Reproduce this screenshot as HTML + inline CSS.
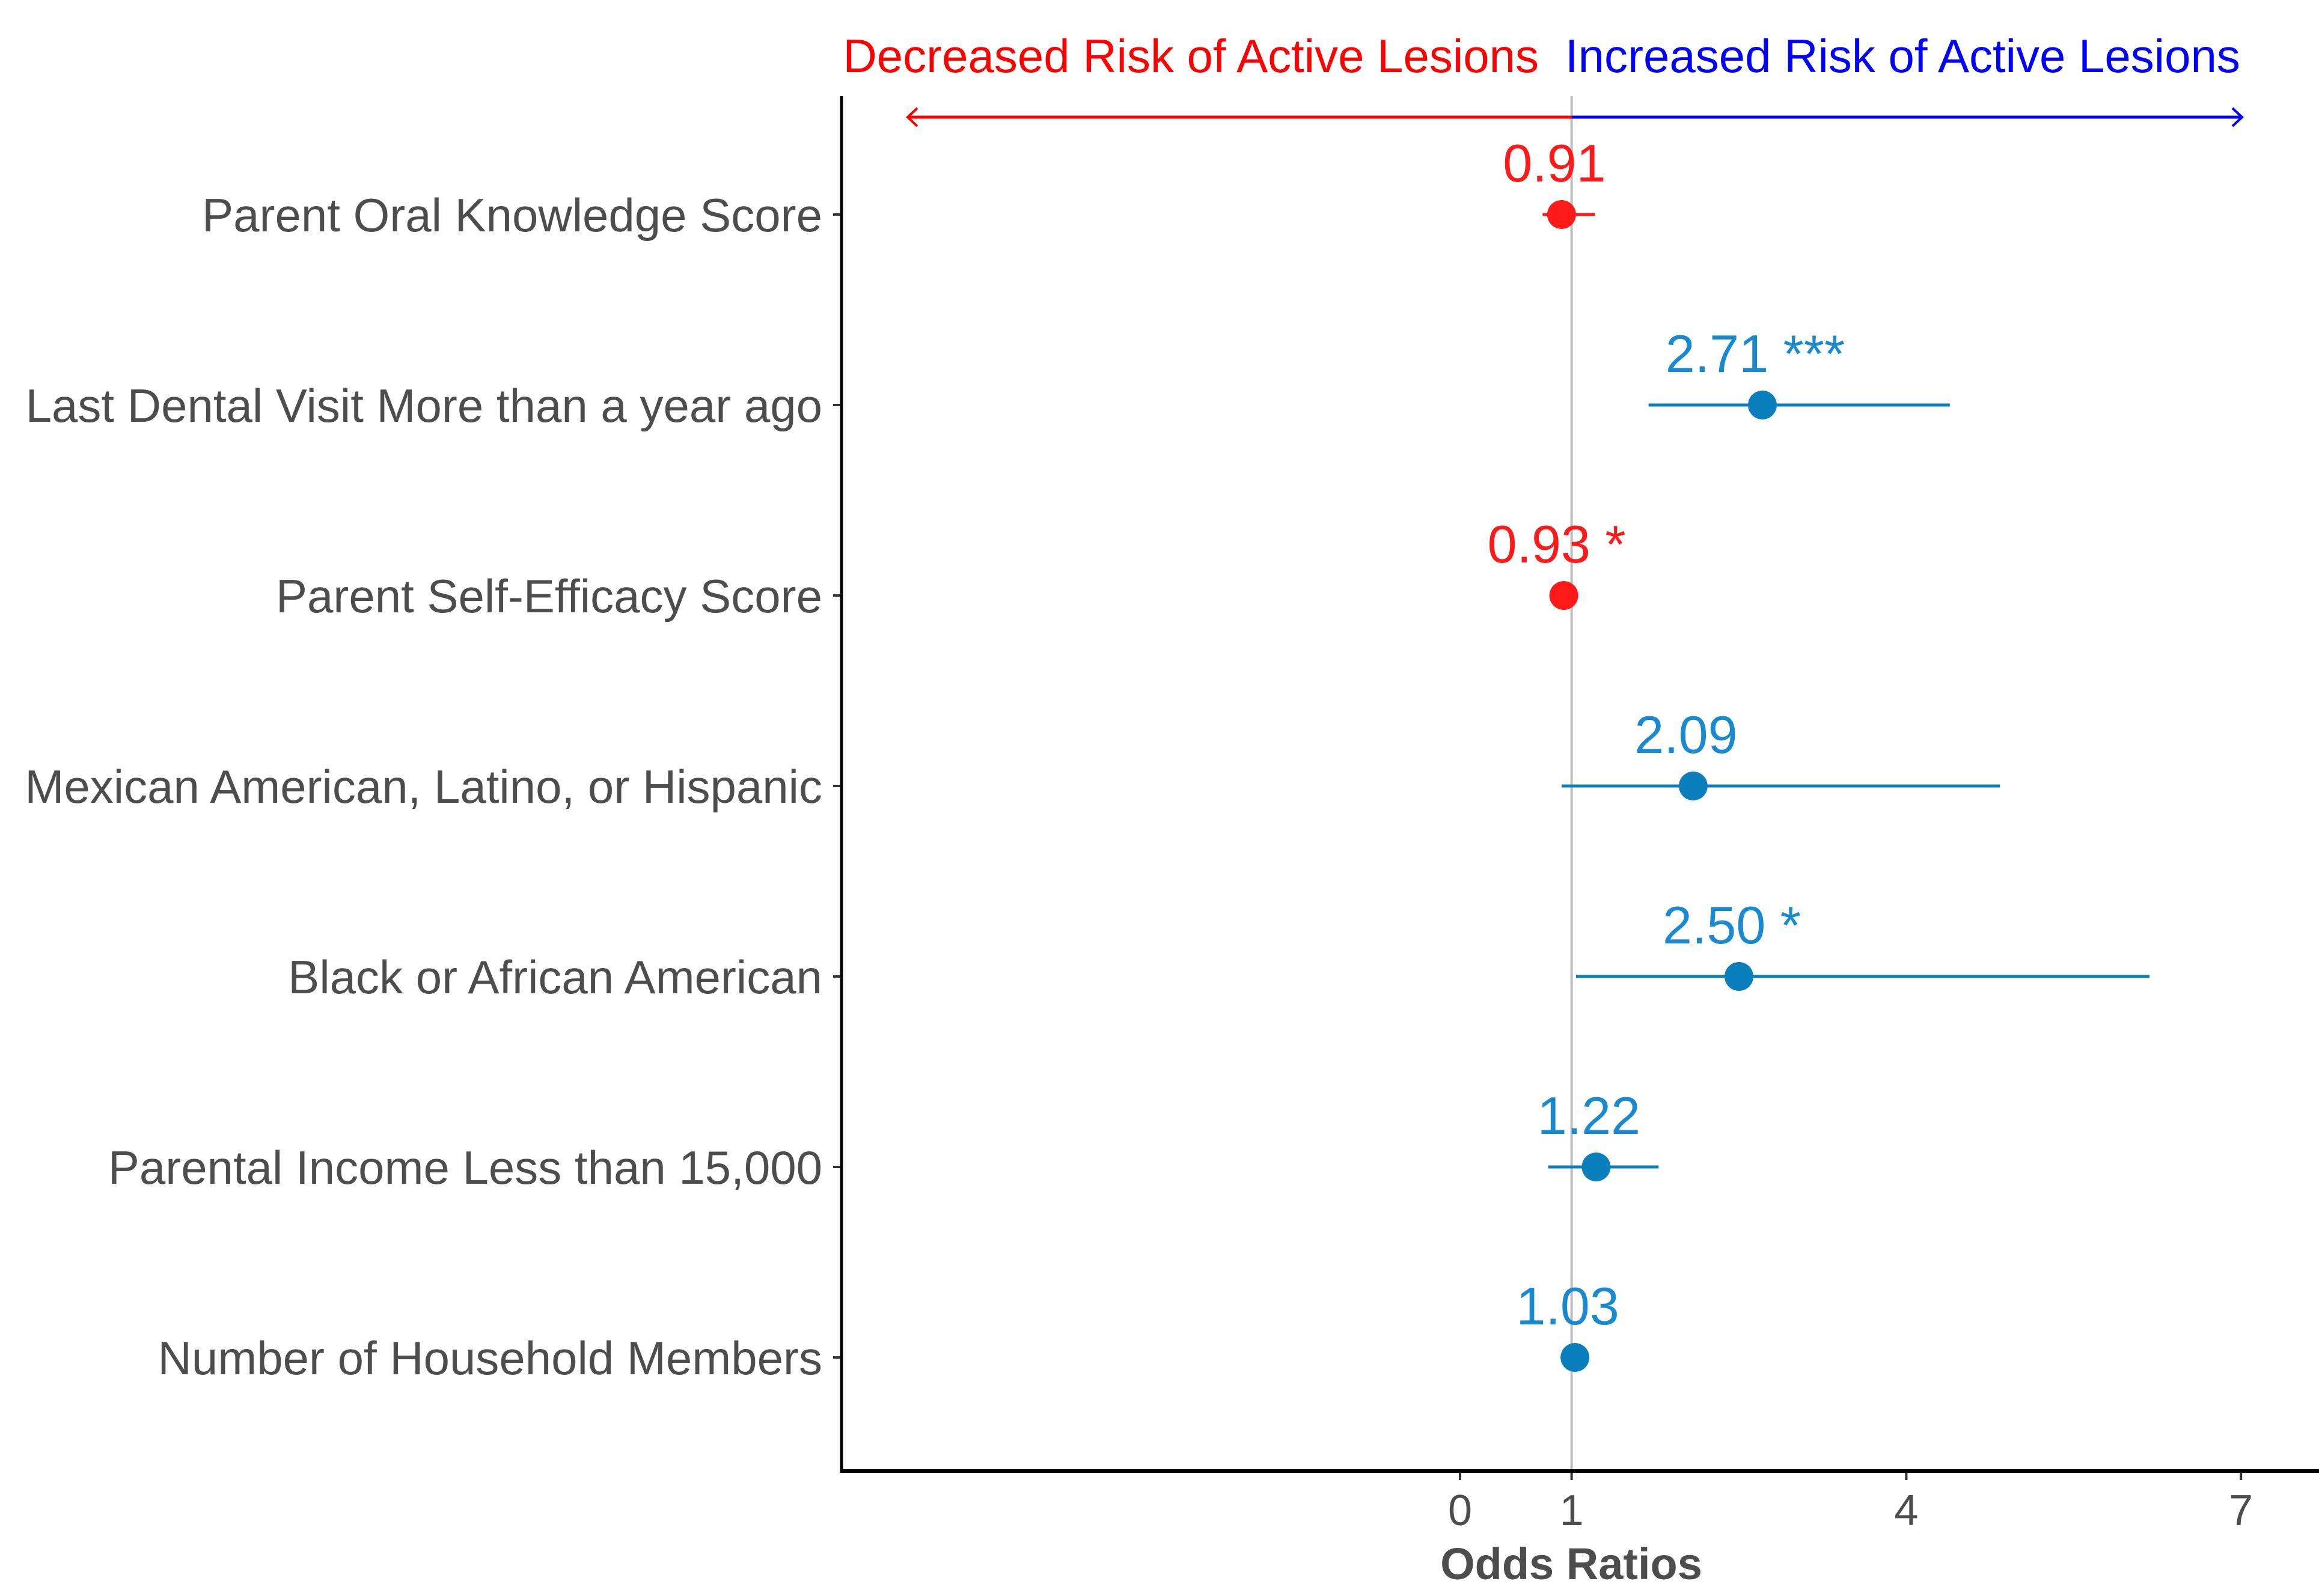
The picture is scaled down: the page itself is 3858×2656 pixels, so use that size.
<!DOCTYPE html>
<html><head><meta charset="utf-8"><style>
html,body{margin:0;padding:0;background:#fff;}
svg{display:block;font-family:"Liberation Sans",Arial,sans-serif;}
</style></head><body>
<svg id="chart" width="3858" height="2656" viewBox="0 0 3858 2656" xmlns="http://www.w3.org/2000/svg">
<rect width="3858" height="2656" fill="#fff"/>
<text x="2560" y="120" text-anchor="end" font-size="78" fill="#ff0000">Decreased Risk of Active Lesions</text>
<text x="2604" y="120" text-anchor="start" font-size="78" fill="#0000ff">Increased Risk of Active Lesions</text>
<g id="plot"></g>
<text x="2614" y="2628" text-anchor="middle" font-size="74" font-weight="bold" fill="#4d4d4d">Odds Ratios</text>
</svg>
<script>
const categories = ["Parent Oral Knowledge Score","Last Dental Visit More than a year ago","Parent Self-Efficacy Score","Mexican American, Latino, or Hispanic","Black or African American","Parental Income Less than 15,000","Number of Household Members"];
const estimates = [0.91, 2.71, 0.93, 2.09, 2.50, 1.22, 1.03];
const ciLow = [0.74, 1.69, 0.88, 0.91, 1.04, 0.79, 0.99];
const ciHigh = [1.21, 4.39, 0.98, 4.84, 6.18, 1.78, 1.07];
const stars = ["", "***", "*", "", "*", "", ""];
const xTicks = [0, 1, 4, 7];

const NS = "http://www.w3.org/2000/svg";
const g = document.getElementById('plot');
function xs(v){ return 2429 + v*185.6; }
function ys(i){ return 357 + i*317; }
function mk(tag, attrs, parent){ const e=document.createElementNS(NS,tag); for(const k in attrs) e.setAttribute(k,attrs[k]); (parent||g).appendChild(e); return e; }

let ref = mk('line',{x1:xs(1),x2:xs(1),y1:160,y2:2446,stroke:'#bdbdbd','stroke-width':4});



let ar = mk('line',{x1:1510,x2:xs(1),y1:195,y2:195,stroke:'#ff0000','stroke-width':5});


let arh = mk('polyline',{points:'1526,180 1510,195 1526,210',fill:'none',stroke:'#ff0000','stroke-width':4});


let ab = mk('line',{x1:xs(1),x2:3730,y1:195,y2:195,stroke:'#0000ff','stroke-width':5});


let abh = mk('polyline',{points:'3714,180 3730,195 3714,210',fill:'none',stroke:'#0000ff','stroke-width':4});



let yax = mk('line',{x1:1400,x2:1400,y1:160,y2:2451,stroke:'#000','stroke-width':5});


let xax = mk('line',{x1:1398,x2:3858,y1:2448,y2:2448,stroke:'#000','stroke-width':6});



xTicks.forEach(t=>{
  const tk = mk('line',{x1:xs(t),x2:xs(t),y1:2451,y2:2463,stroke:'#333','stroke-width':4});
  
  
  const tl = mk('text',{x:xs(t),y:2538,'text-anchor':'middle','font-size':72,fill:'#4d4d4d'});
  tl.textContent = String(t);
  
  
});

categories.forEach((c,i)=>{
  const y = ys(i);
  const neg = estimates[i] < 1;
  const col = neg ? '#ff1a1a' : '#0b7ebc';
  const tcol = neg ? '#ff1a1a' : '#1a8ad0';
  const tk = mk('line',{x1:1386,x2:1398,y1:y,y2:y,stroke:'#333','stroke-width':4});
  
  
  const lb = mk('text',{x:1368,y:y+28,'text-anchor':'end','font-size':78,fill:'#4d4d4d'});
  lb.textContent = c;
  
  
  const ci = mk('line',{x1:xs(ciLow[i]),x2:xs(ciHigh[i]),y1:y,y2:y,stroke:col,'stroke-width':5});
  
  
  const pt = mk('circle',{cx:xs(estimates[i]),cy:y,r:24,fill:col});
  
  
  const vl = mk('text',{x:xs(estimates[i])-12,y:y-55,'text-anchor':'middle','font-size':88,fill:tcol});
  vl.textContent = estimates[i].toFixed(2) + (stars[i] ? ' ' + stars[i] : '');
  
  
});
</script>
</body></html>
